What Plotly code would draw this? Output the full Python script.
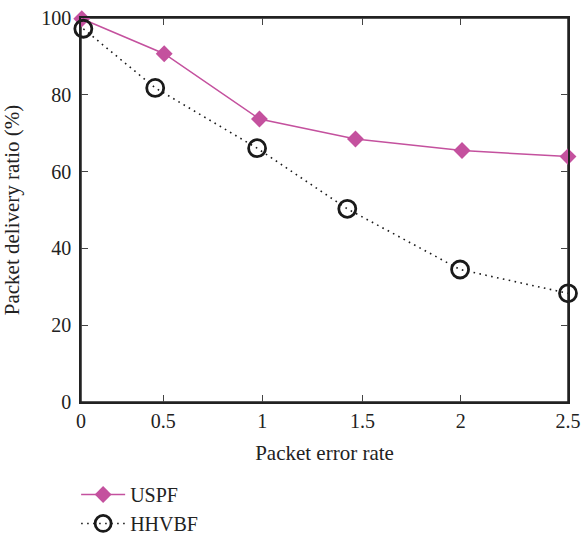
import plotly.graph_objects as go

# Tick labels (positions; original axis spacing is uneven)
x_tick_vals = [0, 0.422, 0.931, 1.445, 1.950, 2.5]
x_tick_text = ["0", "0.5", "1", "1.5", "2", "2.5"]
y_tick_vals = [0, 20, 40, 60, 80, 100]

# Series
uspf_x = [0.004, 0.427, 0.916, 1.409, 1.956, 2.5]
uspf_y = [99.8, 90.7, 73.7, 68.5, 65.5, 63.9]

hhvbf_x = [0.012, 0.381, 0.904, 1.367, 1.946, 2.5]
hhvbf_y = [97.2, 81.8, 66.1, 50.3, 34.5, 28.3]

FONT = "Liberation Serif"
PINK = "#c4519e"
INK = "#1a1a1a"

fig = go.Figure()
fig.add_trace(go.Scatter(
    x=uspf_x, y=uspf_y, name="USPF", mode="lines+markers",
    line=dict(color=PINK, width=1.5),
    marker=dict(symbol="diamond", size=13, color=PINK),
    cliponaxis=False,
))
fig.add_trace(go.Scatter(
    x=hhvbf_x, y=hhvbf_y, name="HHVBF", mode="lines+markers",
    line=dict(color=INK, width=1.6, dash="1.6px,4.4px"),
    marker=dict(symbol="circle-open", size=17, color=INK,
                line=dict(width=2.8, color=INK)),
    cliponaxis=False,
))

axis_common = dict(
    showgrid=False, zeroline=False, showline=True, linecolor="#222",
    linewidth=1.5, ticks="inside", ticklen=7, tickwidth=1.2,
    tickcolor="#444", tickfont=dict(family=FONT, size=20, color="#222"),
    automargin=False,
)
fig.update_xaxes(
    range=[0, 2.5], tickmode="array", tickvals=x_tick_vals, ticktext=x_tick_text,
    mirror="ticks",
    title=dict(text="Packet error rate", font=dict(family=FONT, size=21, color="#222"), standoff=15),
    **axis_common,
)
fig.update_yaxes(
    range=[0, 100], tickmode="array", tickvals=y_tick_vals, ticklabelstandoff=4,
    mirror="ticks",
    title=dict(text="Packet delivery ratio (%)", font=dict(family=FONT, size=21, color="#222"), standoff=16),
    **axis_common,
)
# plot frame
fig.add_shape(type="rect", xref="paper", yref="paper", x0=0, x1=1, y0=0, y1=1,
              line=dict(color="#222", width=1.5), layer="below")

fig.update_layout(
    width=581, height=536,
    margin=dict(l=81, r=13, t=18, b=134, autoexpand=False),
    plot_bgcolor="white", paper_bgcolor="white",
    font=dict(family=FONT, size=20, color="#222"),
    showlegend=True,
    legend=dict(x=-0.01, y=-0.19, xanchor="left", yanchor="top",
                bgcolor="rgba(0,0,0,0)", font=dict(family=FONT, size=20),
                tracegroupgap=0, itemwidth=44),
)
fig.write_html(
    "out.html",
    config={"displayModeBar": False},
    post_script="document.body.style.margin='0';document.body.style.overflow='hidden';",
)
